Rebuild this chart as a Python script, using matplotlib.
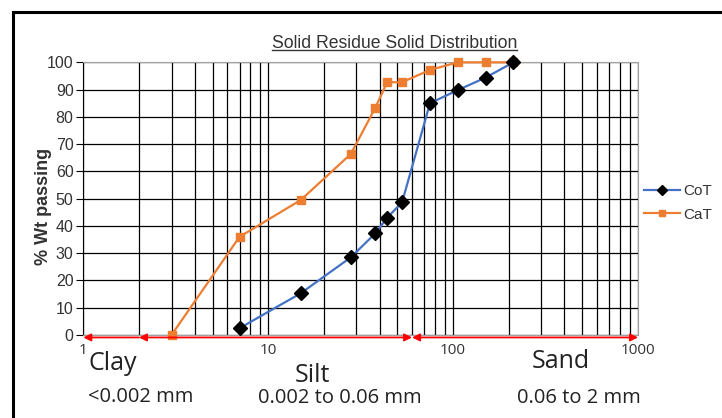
import matplotlib
matplotlib.use("Agg")
import matplotlib.pyplot as plt
from matplotlib.ticker import FixedLocator, NullFormatter, LogLocator
from matplotlib.lines import Line2D
from matplotlib.patches import Rectangle

############### DATA ###############

COT_SIZE = [7, 15, 28, 38, 44, 53, 75, 106, 150, 212]
COT_PASS = [2.5, 15.3, 28.5, 37.3, 43.0, 48.7, 85.0, 89.8, 94.4, 100]

CAT_SIZE = [3, 7, 15, 28, 38, 44, 53, 75, 106, 150, 212]
CAT_PASS = [0, 36.0, 49.5, 66.4, 83.4, 92.7, 92.7, 97.2, 100, 100, 100]

X_TICKS = [1, 10, 100, 1000]
X_TICK_LABELS = ["1", "10", "100", "1000"]
Y_TICKS = list(range(0, 101, 10))

# class boundaries (micron) for the red arrows
CLAY = (1, 2)
SILT = (2, 60)
SAND = (60, 1000)

BLUE = "#4472C4"
ORANGE = "#ED7D31"
TXT = "#333333"
DARK = "#222222"
CAL = ["Open Sans", "DejaVu Sans"]
ARIAL = ["Liberation Sans", "DejaVu Sans"]

############### FIGURE ###############

W, H = 722, 418
fig = plt.figure(figsize=(W / 100, H / 100), dpi=100)
ax = fig.add_axes([83.3 / W, 1 - 335 / H, (638 - 83.3) / W, (335 - 62.3) / H])

def fx(px):
    return px / W

def fy(py):
    return 1 - py / H

# outer frame of the pasted chart
fig.patches.append(Rectangle((fx(13), -0.1), 1.2, fy(12) + 0.1, transform=fig.transFigure,
                             fill=False, edgecolor="black", linewidth=2.2))

ax.plot(COT_SIZE, COT_PASS, color=BLUE, lw=1.6, marker="D", ms=7,
        mfc="black", mec="black", label="CoT", zorder=4, clip_on=False)
ax.plot(CAT_SIZE, CAT_PASS, color=ORANGE, lw=1.6, marker="s", ms=6,
        mfc=ORANGE, mec=ORANGE, label="CaT", zorder=3, clip_on=False)

ax.set_xscale("log")
ax.set_xlim(1, 1000)
ax.set_ylim(0, 100)
ax.xaxis.set_minor_locator(LogLocator(base=10, subs=range(2, 10)))
ax.xaxis.set_minor_formatter(NullFormatter())
ax.set_xticks(X_TICKS, X_TICK_LABELS)
ax.set_yticks(Y_TICKS)
ax.grid(True, which="both", color="black", lw=0.9)
ax.tick_params(axis="x", which="both", length=0, pad=6, labelsize=11, labelcolor=TXT)
ax.tick_params(axis="y", length=5, width=0.8, color="black", labelsize=11.5, labelcolor=TXT, pad=2)
for lab in ax.get_xticklabels():
    lab.set_family(CAL)
for lab in ax.get_yticklabels():
    lab.set_family(ARIAL)
for side in ["top", "right", "bottom"]:
    ax.spines[side].set_color("#a0a0a0")
ax.spines["left"].set_color("black")

# red class arrows along the x axis
for (a, b), style in [(CLAY, "-|>"), (SILT, "<|-|>"), (SAND, "<|-|>")]:
    ax.annotate("", xy=(a, -0.9), xytext=(b, -0.9), xycoords="data",
                arrowprops=dict(arrowstyle=style, color="red", lw=1.3, mutation_scale=11,
                                shrinkA=0, shrinkB=0), annotation_clip=False, zorder=5)

# class labels
fig.text(fx(88), fy(370), "Clay", family=CAL, fontsize=18, color=DARK, ha="left", va="baseline")
fig.text(fx(88), fy(402), "<0.002 mm", family=CAL, fontsize=14.5, color=DARK, ha="left", va="baseline")
fig.text(fx(295), fy(382), "Silt", family=CAL, fontsize=18, color=DARK, ha="left", va="baseline")
fig.text(fx(258), fy(403), "0.002 to 0.06 mm", family=CAL, fontsize=14.5, color=DARK, ha="left", va="baseline")
fig.text(fx(532), fy(368), "Sand", family=CAL, fontsize=18, color=DARK, ha="left", va="baseline")
fig.text(fx(517), fy(403), "0.06 to 2 mm", family=CAL, fontsize=14.5, color=DARK, ha="left", va="baseline")

fig.text(fx(43), fy(206), "% Wt passing", family=ARIAL, fontsize=13, weight="bold",
         color=TXT, rotation=90, ha="center", va="center")

title = fig.text(fx(394.5), fy(47.5), "Solid Residue Solid Distribution", family=ARIAL,
                 fontsize=12.7, color=TXT, ha="center", va="baseline")

ax.legend(loc="center left", bbox_to_anchor=(fx(630), fy(203)), bbox_transform=fig.transFigure,
          frameon=False, handlelength=2.4, handletextpad=0.2, labelspacing=0.6,
          prop={"family": ARIAL, "size": 11}, labelcolor=TXT, markerscale=0.8)

# underline the title
fig.canvas.draw()
bb = title.get_window_extent(fig.canvas.get_renderer())
uy = fy(49.5)
fig.add_artist(Line2D([fx(bb.x0), fx(bb.x1)], [uy, uy], transform=fig.transFigure,
                      color=TXT, lw=1))

fig.savefig("out.png", dpi=100)
